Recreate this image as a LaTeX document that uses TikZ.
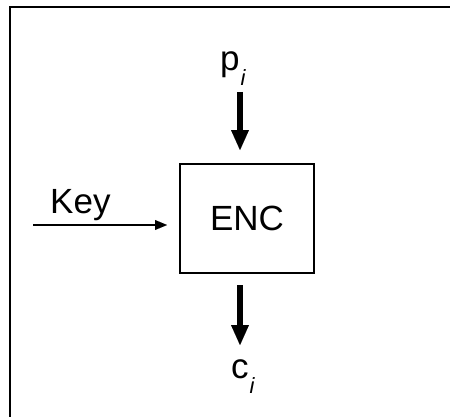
\documentclass[tikz,border=0pt]{standalone}
\usepackage{fontspec}
\setmainfont{Liberation Sans}
\usetikzlibrary{arrows.meta}
\newcommand{\subi}{\hspace{1pt}\raisebox{-15pt}{\fontsize{22}{22}\selectfont\itshape i}}
\tikzset{
  lbl/.style={inner sep=0pt, anchor=base west, font=\fontsize{35}{35}\selectfont},
  encbox/.style={draw, line width=2pt, minimum width=134pt, minimum height=109pt, inner sep=0pt, font=\fontsize{35}{35}\selectfont},
  bigarrow/.style={line width=6pt, -{Triangle[width=18pt,length=20pt,line width=0.01pt]}},
  thinarrow/.style={line width=1.6pt, -{Triangle[width=10pt,length=12pt,line width=0.01pt]}},
  frame/.style={line width=2pt}
}
\begin{document}
\begin{tikzpicture}[x=1pt,y=1pt]
\useasboundingbox (0,0) rectangle (450,416);
\draw[frame] (10,-10) -- (10,409) -- (460,409);
\node[encbox] (enc) at (247,197.5) {ENC};
\node[lbl] (p) at (220,345) {p\subi};
\node[lbl] (c) at (231,38) {c\subi};
\node[lbl] (key) at (50,203) {Key};
\coordinate (ptop) at (240,324);
\coordinate (pend) at (240,266);
\coordinate (ctop) at (240,131);
\coordinate (cend) at (240,71);
\coordinate (kstart) at (33,191);
\coordinate (kend) at (167,191);
\draw[bigarrow] (ptop) -- (pend);
\draw[bigarrow] (ctop) -- (cend);
\draw[thinarrow] (kstart) -- (kend);
\end{tikzpicture}
\end{document}
